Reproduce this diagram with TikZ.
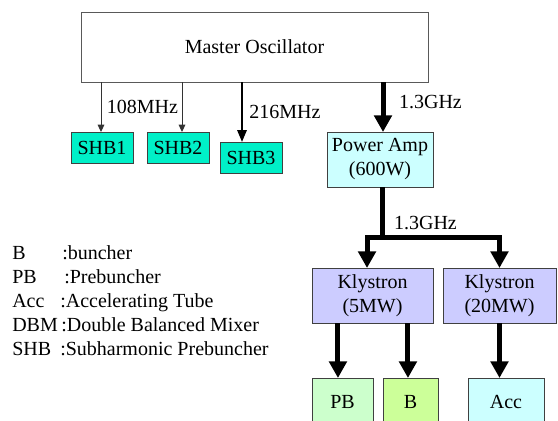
\documentclass[tikz,border=0pt]{standalone}
\usepackage{fontspec}
\setmainfont{Liberation Serif}
\newfontfamily\diagfont{Liberation Serif}
\usepackage{xcolor}
\usepackage{tikz}
\usetikzlibrary{arrows.meta,positioning,calc}

\definecolor{shbfill}{RGB}{0,240,200}
\definecolor{pafill}{RGB}{204,255,255}
\definecolor{klyfill}{RGB}{204,204,255}
\definecolor{pbfill}{RGB}{204,255,204}
\definecolor{bfill}{RGB}{204,255,153}
\definecolor{accfill}{RGB}{204,255,255}

\begin{document}
\begin{tikzpicture}[
  x=0.75pt, y=-0.75pt,
  font=\diagfont\fontsize{15}{18}\selectfont,
  box/.style={rectangle, draw=black!75, line width=0.75pt, inner sep=0pt, outer sep=0pt, align=center},
  mobox/.style={box, draw=black!65, fill=white, minimum width=260.25pt, minimum height=52.5pt},
  shbbox/.style={box, fill=shbfill, minimum width=46.5pt, minimum height=23.25pt},
  pabox/.style={box, fill=pafill, minimum width=79.5pt, minimum height=41.25pt},
  klybox/.style={box, fill=klyfill, minimum height=41.25pt},
  tgtbox/.style={box, minimum height=36pt},
  lbl/.style={inner sep=0pt},
  legend/.style={anchor=base west, inner sep=0pt},
  thinarrow/.style={-{Triangle[width=5pt,length=5.5pt]}, line width=0.75pt, color=black!80},
  midarrow/.style={-{Triangle[width=7pt,length=9pt]}, line width=1.6pt},
  thickline/.style={line width=3.75pt},
  thickarrow/.style={-{Triangle[width=13pt,length=12.5pt]}, line width=3.75pt}
]
\useasboundingbox (0,0) rectangle (558,421);
\clip (0,0) rectangle (558,421);

% Master oscillator and subharmonic bunchers
\node[mobox] (mo) at (254.5,47) {Master Oscillator};
\node[shbbox] (shb1) at (102,147.5) {SHB1};
\node[shbbox, right=10.5pt of shb1] (shb2) {SHB2};
\node[shbbox] (shb3) at (251,157.5) {SHB3};

\draw[thinarrow] ([xshift=-0.75pt]shb1.north |- mo.south) -- ([xshift=-0.75pt]shb1.north);
\draw[thinarrow] ([xshift=3pt]shb2.north |- mo.south) -- ([xshift=3pt]shb2.north);
\draw[midarrow] ([xshift=-6.75pt]shb3.north |- mo.south) -- ([xshift=-6.75pt]shb3.north);

\node[lbl] (f108) at (142.5,107) {108MHz};
\node[lbl] (f216) at (285,112) {216MHz};

% Power amplifier
\node[pabox] (pa) at (380,159.5) {Power Amp\\(600W)};
\draw[thickarrow] ([xshift=2.25pt]pa.north |- mo.south) -- ([xshift=2.25pt]pa.north);
\node[lbl] (f13a) at (430.5,102) {1.3GHz};

% Klystrons
\node[klybox, minimum width=90.75pt] (k5) at (372.5,295.5) {Klystron\\(5MW)};
\node[klybox, minimum width=84.75pt, right=7.5pt of k5] (k20) {Klystron\\(20MW)};

\path ([xshift=1.5pt]pa.south) ++(0,50) coordinate (split);
\draw[thickline] ([xshift=1.5pt]pa.south) -- (split);
\draw[thickarrow] (split) -| ([xshift=-4.1pt]k5.north);
\draw[thickarrow] (split) -| (k20.north);
\node[lbl] (f13b) at (425.5,223) {1.3GHz};

% Loads
\node[tgtbox, fill=pbfill, minimum width=45.75pt] (pb) at (342.5,402) {PB};
\node[tgtbox, fill=bfill, minimum width=41.25pt, right=7.5pt of pb] (bun) {B};
\node[tgtbox, fill=accfill, minimum width=57pt] (acc) at (506,402) {Acc};

\draw[thickarrow] ([xshift=-3.4pt]pb.north |- k5.south) -- ([xshift=-3.4pt]pb.north);
\draw[thickarrow] ([xshift=-1.9pt]bun.north |- k5.south) -- ([xshift=-1.9pt]bun.north);
\draw[thickarrow] (k20.south) -- (k20.south |- acc.north);

% Legend
\node[legend] (ab1) at (12,259) {B};
\node[legend] (ds1) at (62,259) {:buncher};
\node[legend] (ab2) at (12,283) {PB};
\node[legend] (ds2) at (64,283) {:Prebuncher};
\node[legend] (ab3) at (12,307) {Acc};
\node[legend] (ds3) at (60,307) {:Accelerating Tube};
\node[legend] (ab4) at (12,331) {DBM};
\node[legend] (ds4) at (61,331) {:Double Balanced Mixer};
\node[legend] (ab5) at (12,355) {SHB};
\node[legend] (ds5) at (60,355) {:Subharmonic Prebuncher};

\end{tikzpicture}
\end{document}
